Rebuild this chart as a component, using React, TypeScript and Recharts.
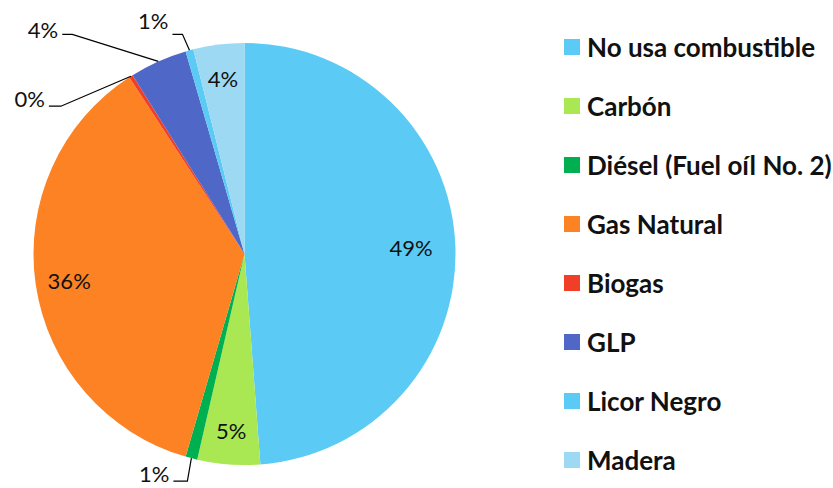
import React from "react";
import { PieChart, Pie, Cell, Legend } from "recharts";

// Share of fuel use, clockwise from 12 o'clock
const categories = [
  "No usa combustible",
  "Carbón",
  "Diésel (Fuel oíl No. 2)",
  "Gas Natural",
  "Biogas",
  "GLP",
  "Licor Negro",
  "Madera",
];
const shares = [48.8, 4.8, 0.9, 36.3, 0.3, 4.4, 0.6, 3.9];
const colors = ["#5bcbf5", "#a9e853", "#00b050", "#fd8224", "#f03f26", "#4f67c6", "#5bcbf5", "#9dd9f3"];

const data = categories.map((name, i) => ({ name, value: shares[i] }));

const FONT = "Lato, 'Open Sans', sans-serif";
const RAD = Math.PI / 180;

// leader-line callouts for the thin slices: elbow offset from the slice edge, then a short run left
const callouts: Record<string, { dx: number; dy: number; run: number; ty: number }> = {
  "Diésel (Fuel oíl No. 2)": { dx: -4, dy: 23, run: 14, ty: -8 },
  Biogas: { dx: -70, dy: 30, run: 12, ty: -8 },
  GLP: { dx: -86, dy: -27, run: 10, ty: -5 },
  "Licor Negro": { dx: -7, dy: -16, run: 10, ty: -14 },
};

const renderLabel = (p: any) => {
  const { cx, cy, midAngle, outerRadius, percent, name } = p;
  const txt = `${Math.round(percent * 100)}%`;
  const c = callouts[name];
  if (c) {
    const ex = cx + outerRadius * Math.cos(-midAngle * RAD);
    const ey = cy + outerRadius * Math.sin(-midAngle * RAD);
    const bx = ex + c.dx;
    const by = ey + c.dy;
    const tx = bx - c.run;
    return (
      <g>
        <polyline points={`${ex},${ey} ${bx},${by} ${tx},${by}`} fill="none" stroke="#000" strokeWidth={1.2} />
        <text x={tx - 4} y={by + c.ty} textAnchor="end" dominantBaseline="central" fontFamily={FONT} fontSize={22} fill="#111">
          {txt}
        </text>
      </g>
    );
  }
  const r = outerRadius * (percent > 0.4 ? 0.79 : 0.84);
  const x = cx + r * Math.cos(-midAngle * RAD);
  const y = cy + r * Math.sin(-midAngle * RAD);
  return (
    <text x={x} y={y} textAnchor="middle" dominantBaseline="central" fontFamily={FONT} fontSize={22} fill="#111">
      {txt}
    </text>
  );
};

const renderLegend = () => (
  <div style={{ fontFamily: FONT, fontWeight: 700, fontSize: 26, color: "#111" }}>
    {categories.map((name, i) => (
      <div key={name} style={{ height: 59, display: "flex", alignItems: "center", whiteSpace: "nowrap" }}>
        <span style={{ width: 16, height: 16, background: colors[i], marginRight: 7, display: "inline-block", flexShrink: 0 }} />
        {name}
      </div>
    ))}
  </div>
);

export default function App() {
  return (
    <div style={{ position: "absolute", left: 0, top: 0, width: 833, height: 488, background: "#fff" }}>
      <PieChart width={833} height={488} margin={{ top: 0, right: 0, bottom: 0, left: 0 }}>
        <Pie
          data={data}
          dataKey="value"
          nameKey="name"
          cx={244.5}
          cy={254}
          outerRadius={211}
          startAngle={90}
          endAngle={-270}
          stroke="none"
          label={renderLabel}
          labelLine={false}
          isAnimationActive={false}
        >
          {data.map((d, i) => (
            <Cell key={d.name} fill={colors[i]} />
          ))}
        </Pie>
        <Legend
          layout="vertical"
          content={renderLegend}
          wrapperStyle={{ left: 564, top: 17, width: 269 }}
        />
      </PieChart>
    </div>
  );
}
